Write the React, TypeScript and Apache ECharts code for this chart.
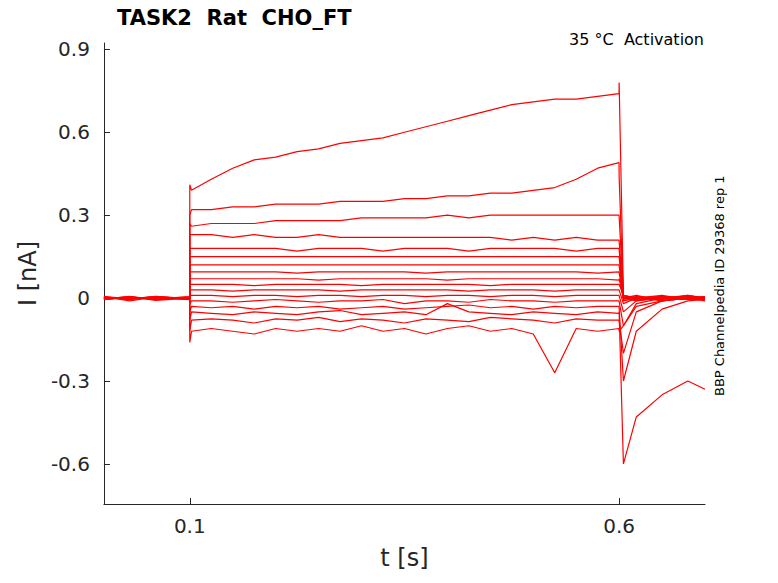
import { useEffect, useRef } from 'react';
import * as echarts from 'echarts';

// shared time base (s)
const T = [0, 0.03, 0.06, 0.0999, 0.1, 0.102, 0.125, 0.15, 0.175, 0.2, 0.225, 0.25, 0.275, 0.3, 0.325, 0.35, 0.375, 0.4, 0.425, 0.45, 0.475, 0.5, 0.525, 0.55, 0.575, 0.5999, 0.6, 0.605, 0.62, 0.65, 0.68, 0.7];

const traces: number[][] = [
  [0.005, -0.01, 0.004, 0.0, 0.41, 0.39, 0.43, 0.47, 0.5, 0.51, 0.53, 0.54, 0.56, 0.57, 0.58, 0.6, 0.62, 0.64, 0.66, 0.68, 0.7, 0.71, 0.72, 0.72, 0.73, 0.74, 0.78, 0.01, 0.0, 0.01, -0.005, 0.0],
  [-0.004, 0.006, -0.008, 0.0, 0.3, 0.32, 0.32, 0.33, 0.33, 0.34, 0.34, 0.34, 0.35, 0.35, 0.35, 0.36, 0.36, 0.37, 0.37, 0.38, 0.38, 0.39, 0.4, 0.43, 0.47, 0.49, 0.44, 0.0, 0.01, -0.01, 0.005, 0.0],
  [0.003, -0.005, 0.006, -0.002, 0.27, 0.26, 0.27, 0.27, 0.27, 0.28, 0.28, 0.28, 0.28, 0.29, 0.29, 0.29, 0.29, 0.3, 0.29, 0.3, 0.3, 0.3, 0.3, 0.3, 0.3, 0.3, 0.3, 0.01, -0.005, 0.0, 0.01, 0.0],
  [-0.006, 0.004, -0.003, 0.005, 0.23, 0.23, 0.23, 0.22, 0.23, 0.22, 0.22, 0.23, 0.22, 0.22, 0.22, 0.22, 0.22, 0.22, 0.22, 0.22, 0.21, 0.22, 0.21, 0.22, 0.21, 0.21, 0.21, 0.0, 0.005, -0.01, 0.0, 0.005],
  [0.002, -0.003, 0.005, -0.004, 0.18, 0.18, 0.18, 0.18, 0.18, 0.18, 0.17, 0.18, 0.18, 0.18, 0.17, 0.18, 0.18, 0.18, 0.17, 0.18, 0.18, 0.18, 0.18, 0.17, 0.18, 0.18, 0.18, -0.01, 0.0, 0.005, -0.005, 0.0],
  [-0.002, 0.004, -0.006, 0.002, 0.15, 0.15, 0.15, 0.15, 0.15, 0.15, 0.15, 0.15, 0.15, 0.15, 0.15, 0.15, 0.15, 0.15, 0.15, 0.15, 0.15, 0.15, 0.15, 0.15, 0.15, 0.15, 0.15, 0.0, -0.005, 0.005, 0.0, -0.01],
  [0.004, -0.002, 0.003, -0.005, 0.12, 0.12, 0.12, 0.12, 0.12, 0.12, 0.12, 0.12, 0.12, 0.12, 0.12, 0.12, 0.12, 0.12, 0.12, 0.12, 0.12, 0.12, 0.12, 0.12, 0.12, 0.12, 0.12, 0.005, 0.0, -0.005, 0.01, 0.0],
  [-0.005, 0.003, -0.002, 0.004, 0.095, 0.095, 0.095, 0.095, 0.095, 0.095, 0.09, 0.095, 0.095, 0.095, 0.095, 0.095, 0.09, 0.095, 0.095, 0.095, 0.095, 0.095, 0.095, 0.095, 0.09, 0.095, 0.095, -0.005, 0.005, 0.0, -0.005, 0.005],
  [0.003, -0.004, 0.002, -0.003, 0.07, 0.07, 0.07, 0.07, 0.07, 0.07, 0.07, 0.065, 0.07, 0.07, 0.07, 0.07, 0.07, 0.065, 0.07, 0.07, 0.07, 0.07, 0.07, 0.07, 0.07, 0.065, 0.07, 0.0, -0.01, 0.005, 0.0, 0.0],
  [-0.003, 0.005, -0.004, 0.002, 0.05, 0.05, 0.05, 0.05, 0.045, 0.05, 0.05, 0.05, 0.05, 0.045, 0.05, 0.05, 0.05, 0.05, 0.05, 0.045, 0.05, 0.05, 0.05, 0.05, 0.05, 0.05, 0.05, 0.01, 0.0, -0.005, 0.005, -0.005],
  [0.005, -0.002, 0.004, -0.006, 0.03, 0.03, 0.03, 0.025, 0.03, 0.03, 0.03, 0.03, 0.025, 0.03, 0.03, 0.03, 0.03, 0.03, 0.025, 0.03, 0.03, 0.03, 0.025, 0.03, 0.03, 0.03, 0.03, -0.02, 0.0, 0.005, -0.005, 0.0],
  [-0.004, 0.002, -0.005, 0.003, 0.01, 0.01, 0.01, 0.005, 0.01, 0.01, 0.005, 0.01, 0.01, 0.005, 0.01, 0.01, 0.005, 0.01, 0.01, 0.005, 0.01, 0.01, 0.005, 0.01, 0.01, 0.01, 0.01, -0.05, -0.01, 0.0, 0.005, 0.0],
  [0.002, -0.005, 0.003, -0.002, -0.02, -0.01, -0.01, -0.015, -0.01, -0.005, -0.01, -0.015, -0.01, -0.01, -0.005, -0.02, -0.01, -0.01, -0.015, -0.005, -0.01, -0.01, -0.015, -0.01, -0.01, -0.01, -0.01, -0.1, -0.03, -0.01, 0.0, -0.005],
  [-0.002, 0.003, -0.004, 0.004, -0.05, -0.03, -0.035, -0.03, -0.04, -0.03, -0.035, -0.03, -0.04, -0.035, -0.03, -0.04, -0.035, -0.03, -0.025, -0.035, -0.03, -0.04, -0.03, -0.035, -0.03, -0.03, -0.03, -0.3, -0.12, -0.04, -0.01, -0.005],
  [0.004, -0.003, 0.002, -0.005, -0.08, -0.05, -0.055, -0.06, -0.05, -0.055, -0.06, -0.05, -0.045, -0.06, -0.055, -0.05, -0.06, -0.02, -0.05, -0.055, -0.06, -0.05, -0.055, -0.06, -0.05, -0.055, -0.05, -0.6, -0.43, -0.35, -0.3, -0.33],
  [-0.005, 0.004, -0.003, 0.002, -0.12, -0.08, -0.075, -0.08, -0.09, -0.075, -0.08, -0.07, -0.085, -0.075, -0.08, -0.09, -0.075, -0.08, -0.085, -0.07, -0.075, -0.08, -0.09, -0.075, -0.08, -0.08, -0.08, -0.2, -0.05, -0.01, 0.0, 0.005],
  [0.003, -0.002, 0.005, -0.003, -0.16, -0.12, -0.11, -0.12, -0.13, -0.11, -0.12, -0.11, -0.12, -0.1, -0.12, -0.11, -0.13, -0.11, -0.1, -0.12, -0.11, -0.13, -0.27, -0.11, -0.12, -0.11, -0.12, -0.1, -0.02, 0.0, -0.005, 0.0],
];

const yTicks = [-0.6, -0.3, 0, 0.3, 0.6, 0.9];
const xTicks = [0.1, 0.6];

export default function App() {
  const ref = useRef<HTMLDivElement>(null);

  useEffect(() => {
    if (!ref.current) return;
    const chart = echarts.init(ref.current, null, { renderer: 'svg' });
    const font = 'DejaVu Sans';
    chart.setOption({
      animation: false,
      textStyle: { fontFamily: font },
      grid: { left: 93, right: 65, top: 35, bottom: 62 },
      title: {
        text: 'TASK2  Rat  CHO_FT',
        left: 104, top: -6,
        textStyle: { fontFamily: font, fontSize: 21, fontWeight: 'bold', color: '#000' },
      },
      graphic: [
        { type: 'text', right: 66, top: 23, style: { text: '35 °C  Activation', font: `16px "${font}"`, fill: '#000' } },
        { type: 'text', x: 705, y: 388, rotation: Math.PI / 2, style: { text: 'BBP Channelpedia ID 29368 rep 1', font: `13px "${font}"`, fill: '#000' } },
      ],
      xAxis: {
        type: 'value', min: 0, max: 0.7,
        name: 't [s]', nameLocation: 'middle', nameGap: 42,
        nameTextStyle: { fontSize: 24, color: '#262626', fontFamily: font },
        axisLine: { onZero: false, lineStyle: { color: '#262626' } },
        axisTick: { inside: true, length: 6, customValues: xTicks, lineStyle: { color: '#262626' } },
        axisLabel: { customValues: xTicks, fontSize: 20, color: '#262626', margin: 12 },
        splitLine: { show: false },
      },
      yAxis: {
        type: 'value', min: -0.745, max: 0.923,
        name: 'I [nA]', nameLocation: 'middle', nameGap: 62,
        nameTextStyle: { fontSize: 24, color: '#262626', fontFamily: font },
        axisLine: { show: true, onZero: false, lineStyle: { color: '#262626' } },
        axisTick: { inside: true, length: 6, customValues: yTicks, lineStyle: { color: '#262626' } },
        axisLabel: { customValues: yTicks, fontSize: 20, color: '#262626', margin: 14, formatter: (v: number) => String(Math.round(v * 10) / 10) },
        splitLine: { show: false },
      },
      series: traces.map((tr) => ({
        type: 'line',
        data: tr.map((v, i) => [T[i], v]),
        showSymbol: false,
        color: '#ff0000',
        lineStyle: { color: '#ff0000', width: 1.2 },
      })),
    });
    return () => chart.dispose();
  }, []);

  return <div ref={ref} style={{ width: 762, height: 567 }} />;
}
